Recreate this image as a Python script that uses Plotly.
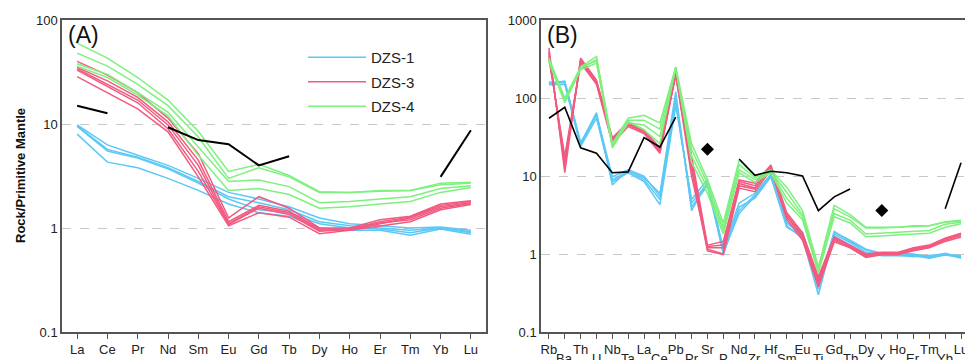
import plotly.graph_objects as go

# ---------------- Panel A : REE ----------------
REE = ["La", "Ce", "Pr", "Nd", "Sm", "Eu", "Gd", "Tb", "Dy", "Ho", "Er", "Tm", "Yb", "Lu"]

A_DZS1 = [
    [9.8, 6.3, 5.0, 4.0, 3.0, 2.2, 1.9, 1.6, 1.25, 1.1, 1.05, 1.0, 1.02, 0.95],
    [9.6, 5.7, 4.8, 3.8, 2.8, 2.0, 1.75, 1.5, 1.15, 1.05, 1.0, 0.95, 1.0, 0.92],
    [9.5, 5.5, 4.7, 3.7, 2.7, 1.9, 1.5, 1.4, 1.1, 1.0, 0.98, 0.9, 1.0, 0.9],
    [8.0, 4.3, 3.8, 3.0, 2.3, 1.7, 1.4, 1.3, 1.0, 0.95, 0.95, 0.85, 0.98, 0.87],
]
A_DZS3 = [
    [40, 29.5, 20, 11.4, 5.2, 1.25, 2.0, 1.55, 1.0, 1.0, 1.2, 1.3, 1.7, 1.83],
    [35, 26, 18, 10.5, 4.5, 1.15, 1.65, 1.45, 0.98, 0.98, 1.15, 1.27, 1.65, 1.8],
    [34, 24, 17, 9.8, 4.0, 1.1, 1.6, 1.4, 0.95, 0.95, 1.1, 1.25, 1.6, 1.75],
    [33, 23, 16, 9.0, 3.5, 1.08, 1.55, 1.35, 0.93, 0.97, 1.12, 1.2, 1.55, 1.72],
    [28.5, 20, 14, 8.4, 3.1, 1.05, 1.4, 1.27, 0.88, 0.95, 1.05, 1.15, 1.5, 1.68],
]
A_DZS4 = [
    [60, 43, 28, 17, 8.5, 3.5, 4.1, 3.2, 2.23, 2.2, 2.3, 2.3, 2.7, 2.75],
    [48, 36, 24, 15, 7.5, 3.0, 3.8, 3.1, 2.2, 2.2, 2.25, 2.3, 2.6, 2.7],
    [38, 30, 20, 13, 6.0, 2.8, 2.9, 2.5, 1.75, 1.8, 1.9, 2.0, 2.4, 2.55],
    [36, 28, 19, 12, 5.0, 2.3, 2.4, 2.1, 1.55, 1.6, 1.7, 1.8, 2.2, 2.45],
]
A_REF = [15, 12.7, None, 9.3, 7.0, 6.4, 4.0, 4.9, None, None, None, None, 3.1, 8.7]

# ---------------- Panel B : spider ----------------
SPI = ["Rb", "Ba", "Th", "U", "Nb", "Ta", "La", "Ce", "Pb", "Pr", "Sr", "P", "Nd", "Zr",
       "Hf", "Sm", "Eu", "Ti", "Gd", "Tb", "Dy", "Y", "Ho", "Er", "Tm", "Yb", "Lu"]

B_DZS1 = [
    [150, 160, 26, 65, 7.7, 12, 9.5, 6.0, 120, 3.6, 8.5, 1.0, 3.6, 5.7, 10, 2.5, 1.75, 0.38, 1.95, 1.44, 1.12, 0.98, 1.0, 0.98, 0.9, 1.0, 0.95],
    [155, 165, 27, 60, 9.0, 11.5, 9.0, 5.0, 90, 4.5, 8.0, 1.2, 4.5, 6.0, 10.5, 2.3, 1.6, 0.30, 1.8, 1.4, 1.05, 0.95, 0.95, 0.95, 0.88, 0.97, 0.9],
    [148, 150, 24, 55, 8.5, 11, 8.5, 4.3, 80, 5.0, 9.0, 1.1, 4.0, 5.2, 9.8, 2.2, 1.7, 0.35, 1.7, 1.3, 1.0, 1.0, 0.97, 0.92, 0.95, 1.0, 0.92],
    [160, 158, 25, 62, 9.8, 12, 10, 5.5, 100, 4.0, 7.5, 1.05, 3.3, 5.5, 10, 2.6, 1.9, 0.42, 1.9, 1.5, 1.15, 1.02, 1.02, 1.0, 0.92, 1.02, 0.88],
]
B_DZS3 = [
    [440, 11, 325, 170, 31, 49, 39, 23, 215, 18, 1.3, 1.45, 8.9, 8.1, 13.8, 3.4, 1.86, 0.51, 1.66, 1.3, 1.0, 1.05, 1.05, 1.2, 1.3, 1.6, 1.85],
    [380, 14, 300, 160, 28, 46, 37, 21, 205, 15, 1.15, 1.0, 8.0, 7.0, 12.5, 3.0, 1.7, 0.45, 1.55, 1.25, 0.95, 1.0, 1.02, 1.15, 1.25, 1.55, 1.78],
    [350, 16, 280, 150, 26, 43, 35, 19.5, 195, 12, 1.1, 0.98, 7.0, 6.3, 12, 2.8, 1.5, 0.38, 1.43, 1.2, 0.9, 0.98, 0.98, 1.1, 1.2, 1.45, 1.65],
    [400, 13, 310, 165, 29, 45, 36, 22, 200, 10, 1.2, 1.2, 7.5, 6.8, 13, 3.2, 1.6, 0.42, 1.5, 1.22, 0.92, 1.02, 1.0, 1.12, 1.22, 1.5, 1.72],
    [320, 18, 290, 155, 30, 48, 38, 20, 210, 14, 1.25, 1.3, 8.5, 7.5, 13.5, 3.1, 1.8, 0.48, 1.6, 1.28, 0.98, 1.03, 1.04, 1.18, 1.28, 1.58, 1.8],
]
B_DZS4 = [
    [325, 100, 250, 340, 26, 55, 60, 48, 250, 26, 9.0, 2.5, 16, 10, 12, 7.2, 3.6, 0.68, 4.2, 3.2, 2.2, 2.2, 2.2, 2.3, 2.3, 2.6, 2.7],
    [300, 92, 240, 310, 24, 52, 52, 40, 245, 22, 8.0, 2.2, 14, 9.5, 11.5, 6.2, 3.2, 0.63, 3.8, 3.0, 2.15, 2.15, 2.2, 2.25, 2.3, 2.55, 2.65],
    [290, 87, 230, 280, 23, 48, 45, 32, 240, 18, 7.0, 2.0, 12, 9.0, 11.2, 5.2, 3.0, 0.60, 3.3, 2.7, 1.8, 1.85, 1.9, 1.95, 2.0, 2.4, 2.55],
    [310, 95, 245, 300, 25, 50, 39, 26, 248, 15, 6.0, 1.8, 11, 8.3, 11, 4.5, 2.75, 0.57, 3.0, 2.5, 1.66, 1.7, 1.75, 1.8, 1.85, 2.2, 2.45],
]
B_REF = [55, 76, 23, 19.6, 11, 11.3, 31, 23.5, 57, None, None, None, 16.5, 10.2, 11.5, 11, 10, 3.6, 5.4, 6.8,
         None, None, None, None, None, 3.8, 14.8]
B_REF_PTS_X = ["Sr", "Y"]
B_REF_PTS_Y = [22, 3.6]

GROUPS = ["DZS-1", "DZS-3", "DZS-4"]
COLORS = {"DZS-1": "#5cc8f5", "DZS-3": "#f25a80", "DZS-4": "#7ef07e"}

FONT = "Liberation Sans, Arial, sans-serif"
W, H = 965, 360

fig = go.Figure()

def add_group(name, rows, xs, xa, ya, legend):
    for i, r in enumerate(rows):
        fig.add_trace(go.Scatter(
            x=xs, y=r, mode="lines", xaxis=xa, yaxis=ya,
            line=dict(color=COLORS[name], width=1.5),
            name=name, legendgroup=name,
            showlegend=(legend and i == 0), hoverinfo="skip"))

add_group("DZS-1", A_DZS1, REE, "x", "y", True)
add_group("DZS-3", A_DZS3, REE, "x", "y", True)
add_group("DZS-4", A_DZS4, REE, "x", "y", True)
fig.add_trace(go.Scatter(x=REE, y=A_REF, mode="lines", xaxis="x", yaxis="y",
                         line=dict(color="black", width=2), connectgaps=False,
                         showlegend=False, hoverinfo="skip"))

add_group("DZS-1", B_DZS1, SPI, "x2", "y2", False)
add_group("DZS-3", B_DZS3, SPI, "x2", "y2", False)
add_group("DZS-4", B_DZS4, SPI, "x2", "y2", False)
fig.add_trace(go.Scatter(x=SPI, y=B_REF, mode="lines", xaxis="x2", yaxis="y2",
                         line=dict(color="black", width=1.6), connectgaps=False,
                         showlegend=False, hoverinfo="skip"))
fig.add_trace(go.Scatter(x=B_REF_PTS_X, y=B_REF_PTS_Y, mode="markers", xaxis="x2", yaxis="y2",
                         marker=dict(symbol="diamond", size=10, color="black"),
                         showlegend=False, hoverinfo="skip"))

axis_common = dict(showline=True, mirror=True, linecolor="#555555", linewidth=1.5,
                   tickfont=dict(family=FONT, size=13, color="#222222"))

# upper row of panel B labels are tick labels; lower row drawn as annotations below
spi_text = [s if i % 2 == 0 else "" for i, s in enumerate(SPI)]

fig.update_layout(
    width=W, height=H,
    margin=dict(l=0, r=0, t=20, b=28),
    paper_bgcolor="white", plot_bgcolor="white",
    font=dict(family=FONT, color="#222222"),
    xaxis=dict(domain=[62 / W, 486 / W], type="category", range=[-0.5, 13.5],
               ticks="outside", ticklen=5, tickcolor="#555555", showgrid=False,
               tickmode="array", tickvals=REE, ticktext=REE, automargin=False,
               tickangle=0, anchor="y", **axis_common),
    yaxis=dict(type="log", range=[-1, 2], tickvals=[0.1, 1, 10, 100],
               ticktext=["0.1", "1", "10", "100"], ticks="", showgrid=True,
               gridcolor="#c8c8c8", griddash="dash", gridwidth=1, zeroline=False,
               automargin=False, anchor="x", **axis_common),
    xaxis2=dict(domain=[541 / W, 1.0], type="category", range=[-0.5, 26.25],
                ticks="outside", ticklen=5, tickcolor="#555555", showgrid=False,
                tickmode="array", tickvals=SPI, ticktext=spi_text, automargin=False,
                tickangle=0, anchor="y2", **axis_common),
    yaxis2=dict(type="log", range=[-1, 3], tickvals=[0.1, 1, 10, 100, 1000],
                ticktext=["0.1", "1", "10", "100", "1000"], ticks="", showgrid=True,
                gridcolor="#c8c8c8", griddash="dash", gridwidth=1, zeroline=False,
                automargin=False, anchor="x2", **axis_common),
    legend=dict(x=303 / W, xanchor="left", y=1 - (41 - 20) / 312, yanchor="top",
                bgcolor="rgba(0,0,0,0)", font=dict(family=FONT, size=15, color="#222222"),
                itemwidth=58, tracegroupgap=2, itemclick=False),
    showlegend=True,
)

for i, s in enumerate(SPI):
    if i % 2 == 1:
        fig.add_annotation(text=s, xref="x2", yref="paper", x=s, y=0, yanchor="top",
                           yshift=-17, showarrow=False,
                           font=dict(family=FONT, size=13, color="#222222"))

fig.add_annotation(text="(A)", xref="paper", yref="paper", x=66 / W, y=1.0,
                   xanchor="left", yanchor="top", showarrow=False,
                   font=dict(family=FONT, size=23, color="#111111"))
fig.add_annotation(text="(B)", xref="paper", yref="paper", x=545 / W, y=1.0,
                   xanchor="left", yanchor="top", showarrow=False,
                   font=dict(family=FONT, size=23, color="#111111"))
fig.add_annotation(text="<b>Rock/Primitive Mantle</b>", xref="paper", yref="paper",
                   x=20 / W, y=0.5, xanchor="center", yanchor="middle", textangle=-90,
                   showarrow=False, font=dict(family=FONT, size=13, color="#111111"))

fig.write_html("out.html")
